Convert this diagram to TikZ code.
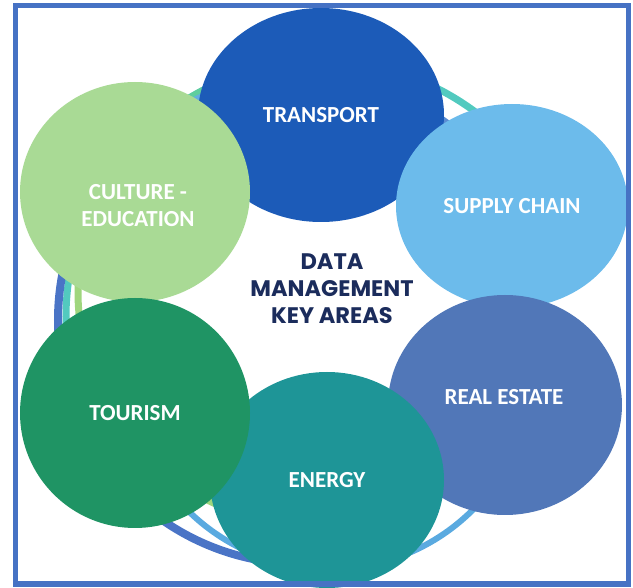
\documentclass[tikz,border=0pt]{standalone}
\usepackage{fontspec}
\setmainfont{Carlito}
\newfontfamily\popfont{Poppins}
\usetikzlibrary{shapes.geometric}
\definecolor{cBorder}{HTML}{4672C4}
\definecolor{cTransport}{HTML}{1C5BB8}
\definecolor{cSupply}{HTML}{6CBBEB}
\definecolor{cReal}{HTML}{5177B8}
\definecolor{cEnergy}{HTML}{1E9597}
\definecolor{cTourism}{HTML}{1F9464}
\definecolor{cCulture}{HTML}{A9DA95}
\definecolor{cText}{HTML}{1B2C5C}
\definecolor{rDark}{HTML}{4A74C6}
\definecolor{rMid}{HTML}{5B8DD3}
\definecolor{rTop}{HTML}{62AEE0}
\definecolor{rTeal}{HTML}{52CABF}
\definecolor{rGreenTeal}{HTML}{5FCE9E}
\definecolor{rLight}{HTML}{5AAAE0}
\definecolor{rGreen}{HTML}{9FD67E}
\begin{document}
\begin{tikzpicture}[x=1pt,y=-1pt,
  area/.style={ellipse, inner sep=0pt, text=white, align=center,
    font=\bfseries\fontsize{23}{27}\selectfont},
  arealabel/.style={text=white, align=center, inner sep=0pt,
    font=\bfseries\fontsize{23}{27}\selectfont},
  ringline/.style={line width=#1}]
\useasboundingbox (0,0) rectangle (633,588);
% background rings
\coordinate (cG) at (310,292);
\coordinate (cL) at (330,367);
\coordinate (cT) at (322,317);
\coordinate (cD) at (302,320);
\draw[rGreen, ringline=7pt] (cG) ++(132:232pt) arc[start angle=132, end angle=250, radius=232pt];
\draw[rLight, ringline=6pt] (cL) ++(215:202pt) arc[start angle=215, end angle=322, radius=202pt];
\draw[rTeal, ringline=7pt] (cT) ++(20:256pt) arc[start angle=20, end angle=215, radius=256pt];
\draw[rGreenTeal, ringline=7pt] (cT) ++(105:256pt) arc[start angle=105, end angle=150, radius=256pt];
\draw[rDark, ringline=8pt] (cD) ++(135:244pt) arc[start angle=135, end angle=285, radius=244pt];
\draw[rMid, ringline=8pt] (cD) ++(45:244pt) arc[start angle=45, end angle=90, radius=244pt];
\draw[rTop, ringline=8pt] (cD) ++(90:244pt) arc[start angle=90, end angle=135, radius=244pt];
% key areas
\node[area, fill=cTransport, minimum width=246pt, minimum height=214pt] (transport) at (321,115) {TRANSPORT};
\node[area, fill=cSupply, minimum width=232pt, minimum height=204pt] (supply) at (512,206) {SUPPLY CHAIN};
\node[area, fill=cReal, minimum width=234pt, minimum height=220pt] (real) at (505,405) {};
\node[arealabel] (realtext) at (504,397) {REAL ESTATE};
\node[area, fill=cEnergy, minimum width=234pt, minimum height=216pt] (energy) at (327,480) {ENERGY};
\node[area, fill=cCulture, minimum width=230pt, minimum height=220pt] (culture) at (135,192) {};
\node[arealabel] (culturetext) at (138,206) {CULTURE -\\EDUCATION};
\node[area, fill=cTourism, minimum width=230pt, minimum height=230pt] (tourism) at (135,413) {TOURISM};
% centre title
\node[text=cText, align=center, inner sep=0pt,
  font=\popfont\bfseries\fontsize{22.5}{27}\selectfont] (title) at (332,289) {DATA\\MANAGEMENT\\KEY AREAS};
% frame
\draw[cBorder, line width=5pt] (15,6) rectangle (628,584);
\end{tikzpicture}
\end{document}
